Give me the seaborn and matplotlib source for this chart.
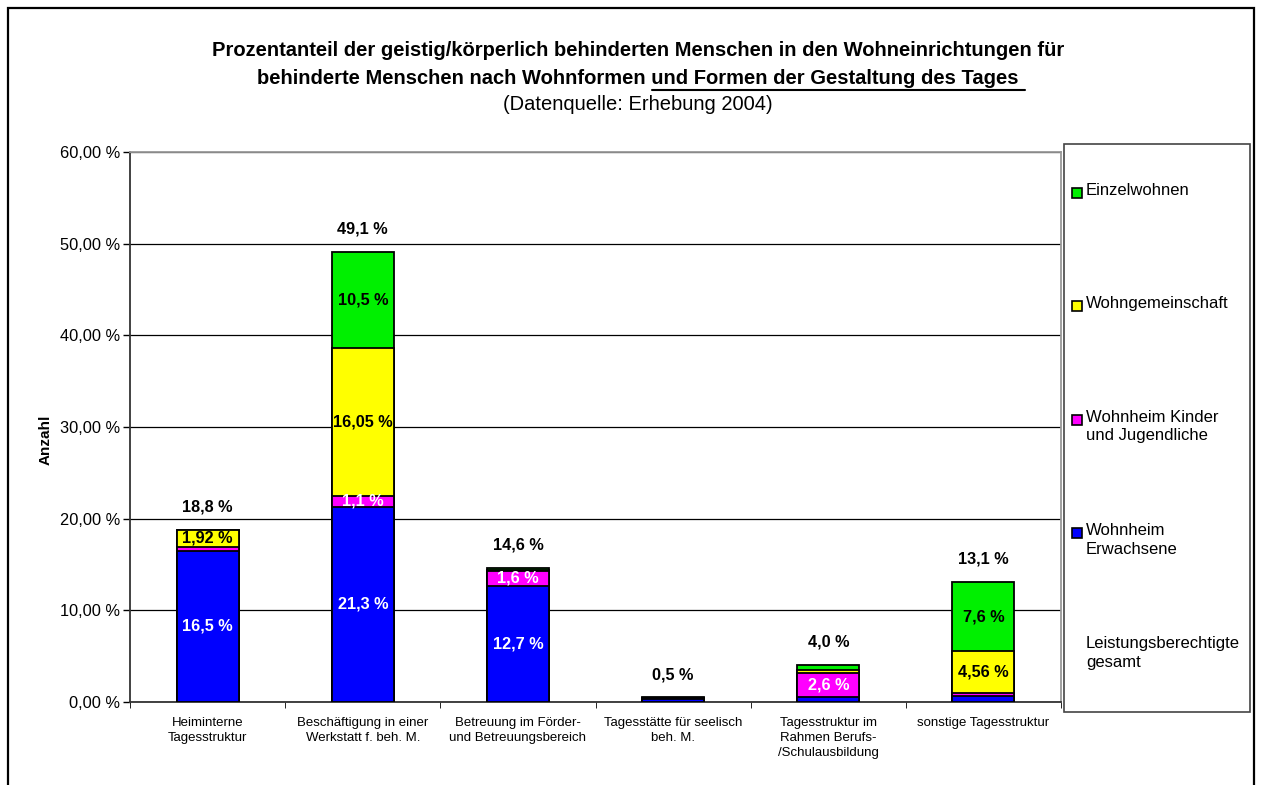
import numpy as np
import pandas as pd
import matplotlib
matplotlib.use("Agg")
import matplotlib.pyplot as plt
from matplotlib.patches import Rectangle
from matplotlib.lines import Line2D
from matplotlib.ticker import FixedLocator, FuncFormatter
import seaborn as sns

# Daten
kategorien = ["Heiminterne\nTagesstruktur",
              "Beschäftigung in einer\nWerkstatt f. beh. M.",
              "Betreuung im Förder-\nund Betreuungsbereich",
              "Tagesstätte für seelisch\nbeh. M.",
              "Tagesstruktur im\nRahmen Berufs-\n/Schulausbildung",
              "sonstige Tagesstruktur"]
wohnheim_erwachsene = [16.5, 21.3, 12.7, 0.3, 0.6, 0.65]
wohnheim_kinder = [0.38, 1.2, 1.6, 0.1, 2.6, 0.3]
wohngemeinschaft = [1.92, 16.1, 0.1, 0.05, 0.3, 4.56]
einzelwohnen = [0.0, 10.5, 0.2, 0.05, 0.5, 7.6]

label_erwachsene = ["16,5 %", "21,3 %", "12,7 %", "", "", ""]
label_kinder = ["", "1,1 %", "1,6 %", "", "2,6 %", ""]
label_wg = ["1,92 %", "16,05 %", "", "", "", "4,56 %"]
label_einzel = ["", "10,5 %", "", "", "", "7,6 %"]
label_gesamt = ["18,8 %", "49,1 %", "14,6 %", "0,5 %", "4,0 %", "13,1 %"]

serien = ["Wohnheim\nErwachsene", "Wohnheim Kinder\nund Jugendliche", "Wohngemeinschaft", "Einzelwohnen"]
farben = ["#0000FF", "#FF00FF", "#FFFF00", "#00F000"]
textfarben = ["white", "white", "black", "black"]

sns.set_style("white")
plt.rcParams["font.family"] = ["Liberation Sans", "DejaVu Sans"]
plt.rcParams["text.color"] = "black"
plt.rcParams["axes.labelcolor"] = "black"
plt.rcParams["xtick.color"] = "black"
plt.rcParams["ytick.color"] = "black"

werte = np.array([wohnheim_erwachsene, wohnheim_kinder, wohngemeinschaft, einzelwohnen])
kumuliert = np.cumsum(werte, axis=0)
df = pd.DataFrame({"kategorie": kategorien})
for i in range(4):
    df["cum%d" % i] = kumuliert[i]

fig = plt.figure(figsize=(12.61, 7.85), dpi=100)
ax = fig.add_axes([130 / 1261, 1 - 702 / 785, 931 / 1261, 550 / 785])

# gestapelte Balken: von oben nach unten übereinander zeichnen
for i in range(3, -1, -1):
    sns.barplot(data=df, x="kategorie", y="cum%d" % i, color=farben[i], saturation=1,
                edgecolor="black", linewidth=1.3, width=0.4, errorbar=None, ax=ax, zorder=3)

# Beschriftungen in den Segmenten
alle_labels = [label_erwachsene, label_kinder, label_wg, label_einzel]
for i in range(4):
    unten = kumuliert[i] - werte[i]
    for j, txt in enumerate(alle_labels[i]):
        if txt:
            ax.text(j, unten[j] + werte[i][j] / 2, txt, ha="center", va="center",
                    color=textfarben[i], fontsize=11.7, fontweight="bold", zorder=5)

for j, txt in enumerate(label_gesamt):
    ax.annotate(txt, (j, kumuliert[3][j]), xytext=(0, 16.5), textcoords="offset points",
                ha="center", va="center", fontsize=11.7, fontweight="bold", zorder=5)

ax.set_ylim(0, 60)
ax.set_xlim(-0.5, 5.5)
ax.yaxis.set_major_locator(FixedLocator(np.arange(0, 61, 10)))
ax.yaxis.set_major_formatter(FuncFormatter(lambda v, p: ("%.2f %%" % v).replace(".", ",")))
ax.set_axisbelow(True)
ax.yaxis.grid(True, color="black", linewidth=0.9)
ax.xaxis.grid(False)
ax.tick_params(axis="y", direction="out", length=5, width=1, labelsize=11.8, pad=2, left=True)
ax.tick_params(axis="x", which="major", length=0, labelsize=9.5, pad=11)
ax.set_xticks(np.arange(-0.5, 6, 1), minor=True)
ax.tick_params(axis="x", which="minor", direction="out", length=4, bottom=True)
ax.set_xticks(range(len(kategorien)))
ax.set_xticklabels(kategorien, linespacing=1.3)
ax.set_xlabel("")
ax.set_ylabel("Anzahl", fontsize=11, fontweight="bold")
ax.yaxis.set_label_coords(-0.083, 0.476)
for s in ["left", "bottom"]:
    ax.spines[s].set_color("#333333")
    ax.spines[s].set_linewidth(1.3)
for s in ["top", "right"]:
    ax.spines[s].set_color("#999999")
    ax.spines[s].set_linewidth(1.3)

# Titel
cx = 0.506
gr = 14.5
zeile1 = "Prozentanteil der geistig/körperlich behinderten Menschen in den Wohneinrichtungen für"
praefix = "behinderte Menschen nach Wohnformen "
zeile2 = praefix + "und Formen der Gestaltung des Tages"
fig.text(cx, 1 - 50 / 785, zeile1, ha="center", va="center", fontsize=gr, fontweight="bold")
t2 = fig.text(cx, 1 - 79 / 785, zeile2, ha="center", va="center", fontsize=gr, fontweight="bold")
fig.text(cx, 1 - 104 / 785, "(Datenquelle: Erhebung 2004)", ha="center", va="center", fontsize=gr)

fig.canvas.draw()
r = fig.canvas.get_renderer()
bb = t2.get_window_extent(r)
tp = fig.text(0, 0, praefix, fontsize=gr, fontweight="bold")
wp = tp.get_window_extent(r).width
tp.remove()
W, H = fig.bbox.width, fig.bbox.height
fig.add_artist(Line2D([(bb.x0 + wp) / W, (bb.x1 + 6) / W], [(bb.y0 - 1) / H] * 2,
                      color="black", linewidth=1.5))

# Legende (manuell, gleichmäßig verteilt)
fig.add_artist(Rectangle((1064 / 1261, 1 - 712 / 785), 186 / 1261, 568 / 785,
                         fill=False, edgecolor="#444444", linewidth=1.2))
leg_namen = ["Einzelwohnen", "Wohngemeinschaft", "Wohnheim Kinder\nund Jugendliche",
             "Wohnheim\nErwachsene", "Leistungsberechtigte\ngesamt"]
leg_farben = [farben[3], farben[2], farben[1], farben[0], None]
for k, (name, fc) in enumerate(zip(leg_namen, leg_farben)):
    y = 1 - (193 + k * 113.3) / 785
    if fc is not None:
        fig.add_artist(Rectangle((1072 / 1261, y - 5 / 785), 10 / 1261, 10 / 785,
                                 facecolor=fc, edgecolor="black", linewidth=1.2))
    fig.text(1086 / 1261, y + 10 / 785, name, ha="left", va="top", fontsize=12,
             linespacing=1.3)

# Rahmen um die Grafik
fig.add_artist(Rectangle((8 / 1261, -0.2), 1246 / 1261, 1.2 - 8 / 785,
                         fill=False, edgecolor="black", linewidth=1.6))

fig.savefig("out.png", dpi=100)
